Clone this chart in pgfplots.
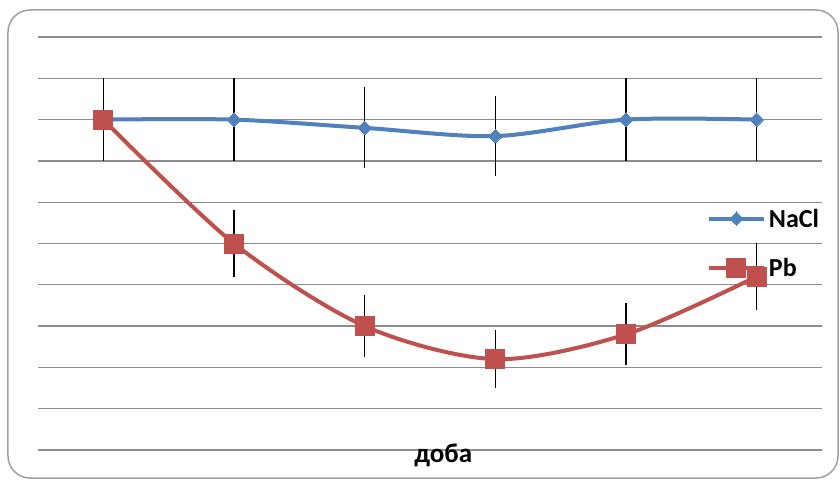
\documentclass[border=0pt]{standalone}
\usepackage{fontspec}
\setmainfont{Carlito}
\usepackage{pgfplots}
\pgfplotsset{compat=1.18}

\definecolor{xlblue}{HTML}{4F81BD}
\definecolor{xlred}{HTML}{C0504D}
\definecolor{gridgray}{HTML}{8C8C8C}

\begin{document}
\begin{tikzpicture}
% page frame (image is 840 x 480, axis origin sits at image (38,450))
\useasboundingbox (-38pt,-30pt) rectangle (802pt,450pt);
\draw[gray!75, line width=1.5pt, rounded corners=22pt, fill=white]
  (-30pt,-28pt) rectangle (800pt,440pt);
\begin{axis}[
    at={(0pt,0pt)}, anchor=south west,
    scale only axis,
    width=784pt, height=413pt,
    xmin=-0.5, xmax=5.5,
    ymin=0, ymax=10,
    xtick=\empty,
    ytick={0,1,...,10},
    yticklabels={},
    major tick length=0pt,
    ymajorgrids,
    grid style={gridgray, line width=1.3pt},
    axis line style={draw=none},
    clip=false,
    font=\fontsize{26}{30}\selectfont\bfseries,
    legend image code/.code={
      \draw[mark repeat=2, mark phase=2, #1]
        plot coordinates {(0pt,0pt) (27.5pt,0pt) (55pt,0pt)};
    },
    legend style={draw=none, fill=none, at={(0.853,0.5)}, anchor=west,
      inner sep=0pt, row sep=30pt,
      nodes={inner xsep=3pt, inner ysep=0pt},
      font=\fontsize{26}{30}\selectfont\bfseries},
    legend cell align=left,
    error bars/error bar style={black, line width=1.6pt},
    error bars/error mark=none,
]
\addplot[xlblue, line width=4pt, smooth,
    mark=square*, mark size=4.8pt, mark options={rotate=45, fill=xlblue, draw=xlblue, line width=0pt},
    error bars/.cd, y dir=both, y explicit]
  coordinates {
    (0,8.0) +- (0,1.0)
    (1,8.0) +- (0,1.0)
    (2,7.8) +- (0,0.98)
    (3,7.6) +- (0,0.97)
    (4,8.0) +- (0,1.0)
    (5,8.0) +- (0,1.0)
  };
\addlegendentry{NaCl}
\addplot[xlred, line width=4pt, smooth,
    mark=square*, mark size=9.5pt, mark options={fill=xlred, draw=xlred, line width=0pt},
    error bars/.cd, y dir=both, y explicit]
  coordinates {
    (0,8.0) +- (0,1.0)
    (1,5.0) +- (0,0.82)
    (2,3.0) +- (0,0.75)
    (3,2.2) +- (0,0.70)
    (4,2.8) +- (0,0.75)
    (5,4.2) +- (0,0.82)
  };
\addlegendentry{Pb}
\node[anchor=center, font=\fontsize{27}{30}\selectfont\bfseries]
  at (axis description cs:0.517,-0.012) {доба};
\end{axis}
\end{tikzpicture}
\end{document}
